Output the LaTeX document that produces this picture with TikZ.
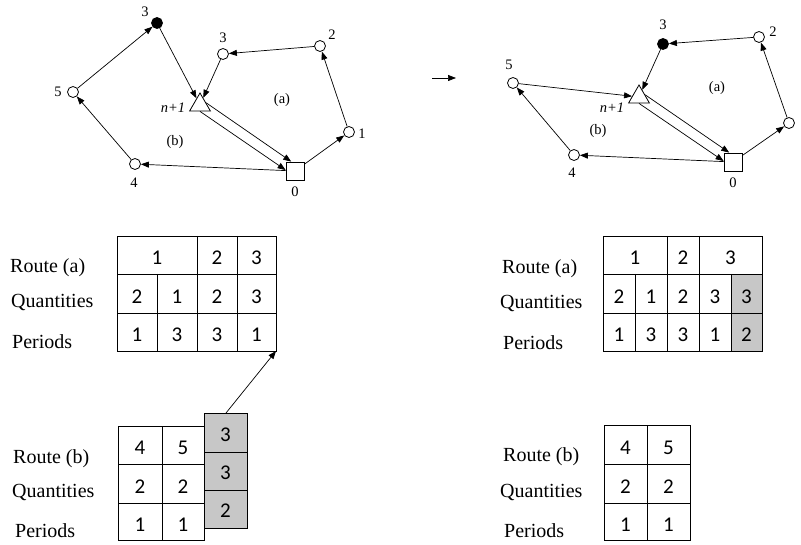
\documentclass[tikz,border=0pt]{standalone}
\usepackage{fontspec}
\setmainfont{Liberation Serif}
\newfontfamily\serfont{Liberation Serif}
\newfontfamily\tabfont{Carlito}
\usetikzlibrary{arrows.meta,shapes.geometric,calc}
\begin{document}
\begin{tikzpicture}[x=1pt,y=-1pt,
 every node/.style={inner sep=0pt},
 vtx/.style={circle,draw,line width=0.8pt,minimum size=11pt,fill=white},
 vblack/.style={vtx,fill=black},
 tri/.style={regular polygon,regular polygon sides=3,draw,line width=0.8pt,minimum size=24pt},
 depot/.style={rectangle,draw,line width=0.8pt,minimum size=18pt},
 lbl/.style={font=\serfont\fontsize{14.5}{16}\selectfont},
 arr/.style={-{Triangle[length=8pt,width=6pt]},line width=0.7pt},
 rowlbl/.style={anchor=base west,font=\serfont\fontsize{20}{24}\selectfont},
 num/.style={font=\tabfont\fontsize{21}{24}\selectfont},
 grid/.style={line width=0.9pt},
 graycell/.style={draw,line width=0.9pt,fill=black!22}
]
\useasboundingbox (0,0) rectangle (801,545);

% ---------------- left graph ----------------
\node[vblack] (Lb3) at (157,23) {};
\node[vtx] (Lw3) at (223,54) {};
\node[vtx] (L2) at (320,46) {};
\node[vtx] (L5) at (73,92) {};
\node[tri] (Lt) at (200,105) {};
\node[vtx] (L1) at (349,132) {};
\node[vtx] (L4) at (135,164) {};
\node[depot] (L0) at (295,171) {};
\node[lbl] (Lb3l) at (145,12) {3};
\node[lbl] (Lw3l) at (223,38) {3};
\node[lbl] (L2l) at (332,35) {2};
\node[lbl] (L5l) at (58,92) {5};
\node[lbl] (Ltl) at (173,108) {\textit{n+1}};
\node[lbl] (L1l) at (362,134) {1};
\node[lbl] (L4l) at (134,183) {4};
\node[lbl] (L0l) at (295,192) {0};
\node[lbl] (La) at (282,100) {(a)};
\node[lbl] (Lb) at (175,142) {(b)};
\draw[arr] (L5) -- (Lb3);
\draw[arr] (Lb3) -- (Lt);
\draw[arr] (Lw3) -- (Lt);
\draw[arr] (L2) -- (Lw3);
\draw[arr] (L1) -- (L2);
\draw[arr] (L0) -- (L1);
\draw[arr] (L0) -- (L4);
\draw[arr] (L4) -- (L5);
\draw[arr] ($(Lt.corner 1)!0.55!(Lt.corner 3)$) -- ($(L0.north west)!0.3!(L0.north east)$);
\draw[arr] (Lt.south) -- ($(L0.north west)!0.45!(L0.south west)$);

% ---------------- middle arrow ----------------
\coordinate (ms) at (432,78);
\coordinate (me) at (456,78);
\draw[arr] (ms) -- (me);

% ---------------- right graph ----------------
\node[vblack] (Rb3) at (663,44) {};
\node[vtx] (R2) at (759,37) {};
\node[vtx] (R5) at (513,83) {};
\node[tri] (Rt) at (639,97) {};
\node[vtx] (R1) at (789,123) {};
\node[vtx] (R4) at (574,155) {};
\node[depot] (R0) at (733,162) {};
\node[lbl] (Rb3l) at (663,25) {3};
\node[lbl] (R2l) at (773,32) {2};
\node[lbl] (R5l) at (509,65) {5};
\node[lbl] (Rtl) at (612,108) {\textit{n+1}};
\node[lbl] (R4l) at (572,173) {4};
\node[lbl] (R0l) at (733,183) {0};
\node[lbl] (Ra) at (717,88) {(a)};
\node[lbl] (Rb) at (598,131) {(b)};
\draw[arr] (R2) -- (Rb3);
\draw[arr] (Rb3) -- (Rt);
\draw[arr] (R5) -- (Rt);
\draw[arr] (R4) -- (R5);
\draw[arr] (R0) -- (R4);
\draw[arr] (R0) -- (R1);
\draw[arr] (R1) -- (R2);
\draw[arr] ($(Rt.corner 1)!0.55!(Rt.corner 3)$) -- ($(R0.north west)!0.3!(R0.north east)$);
\draw[arr] (Rt.south) -- ($(R0.north west)!0.45!(R0.south west)$);

% ---------------- top-left table ----------------
\draw[grid] (117,236) rectangle (276,351);
\draw[grid] (117,274) -- (276,274) (117,313) -- (276,313);
\draw[grid] (157,274) -- (157,351) (197,236) -- (197,351) (237,236) -- (237,351);
\coordinate (TAse) at (276,351);
\node[rowlbl] (TAr) at (10,273) {Route (a)};
\node[rowlbl] (TAq) at (11,308) {Quantities};
\node[rowlbl] (TAp) at (12,349) {Periods};
\node[num] (ta11) at (157,258) {1};
\node[num] (ta12) at (217,258) {2};
\node[num] (ta13) at (256.5,258) {3};
\node[num] (ta21) at (137,296.5) {2};
\node[num] (ta22) at (177,296.5) {1};
\node[num] (ta23) at (217,296.5) {2};
\node[num] (ta24) at (256.5,296.5) {3};
\node[num] (ta31) at (137,335) {1};
\node[num] (ta32) at (177,335) {3};
\node[num] (ta33) at (217,335) {3};
\node[num] (ta34) at (256.5,335) {1};

% ---------------- top-right table ----------------
\fill[black!22] (731,274) rectangle (762,351);
\draw[grid] (603,236) rectangle (762,351);
\draw[grid] (603,274) -- (762,274) (603,313) -- (762,313);
\draw[grid] (635,274) -- (635,351) (667,236) -- (667,351) (699,236) -- (699,351) (731,274) -- (731,351);
\node[rowlbl] (TBr) at (502,274) {Route (a)};
\node[rowlbl] (TBq) at (500,309) {Quantities};
\node[rowlbl] (TBp) at (503,350) {Periods};
\node[num] (tb11) at (635,258) {1};
\node[num] (tb12) at (683,258) {2};
\node[num] (tb13) at (730.5,258) {3};
\node[num] (tb21) at (619,296.5) {2};
\node[num] (tb22) at (651,296.5) {1};
\node[num] (tb23) at (683,296.5) {2};
\node[num] (tb24) at (715,296.5) {3};
\node[num] (tb25) at (746.5,296.5) {3};
\node[num] (tb31) at (619,335) {1};
\node[num] (tb32) at (651,335) {3};
\node[num] (tb33) at (683,335) {3};
\node[num] (tb34) at (715,335) {1};
\node[num] (tb35) at (746.5,335) {2};

% ---------------- bottom-left table ----------------
\draw[grid] (118,426) rectangle (204,540);
\draw[grid] (118,464) -- (204,464) (118,503) -- (204,503);
\draw[grid] (162,426) -- (162,540);
\draw[graycell] (204,413) rectangle (247,528);
\draw[grid] (204,452) -- (247,452) (204,490) -- (247,490);
\coordinate (gtop) at (226,413);
\node[num] (g1n) at (225.5,434.5) {3};
\node[num] (g2n) at (225.5,473) {3};
\node[num] (g3n) at (225.5,511) {2};
\draw[arr] (gtop) -- (TAse);
\node[rowlbl] (TCr) at (13,463) {Route (b)};
\node[rowlbl] (TCq) at (12,497) {Quantities};
\node[rowlbl] (TCp) at (15,537) {Periods};
\node[num] (tc11) at (140,448) {4};
\node[num] (tc12) at (183,448) {5};
\node[num] (tc21) at (140,486.5) {2};
\node[num] (tc22) at (183,486.5) {2};
\node[num] (tc31) at (140,524.5) {1};
\node[num] (tc32) at (183,524.5) {1};

% ---------------- bottom-right table ----------------
\draw[grid] (604,425) rectangle (690,540);
\draw[grid] (604,464) -- (690,464) (604,503) -- (690,503);
\draw[grid] (647,425) -- (647,540);
\node[rowlbl] (TDr) at (503,461) {Route (b)};
\node[rowlbl] (TDq) at (500,497) {Quantities};
\node[rowlbl] (TDp) at (504,537) {Periods};
\node[num] (td11) at (625.5,447.5) {4};
\node[num] (td12) at (668.5,447.5) {5};
\node[num] (td21) at (625.5,486.5) {2};
\node[num] (td22) at (668.5,486.5) {2};
\node[num] (td31) at (625.5,524.5) {1};
\node[num] (td32) at (668.5,524.5) {1};
\end{tikzpicture}
\end{document}
